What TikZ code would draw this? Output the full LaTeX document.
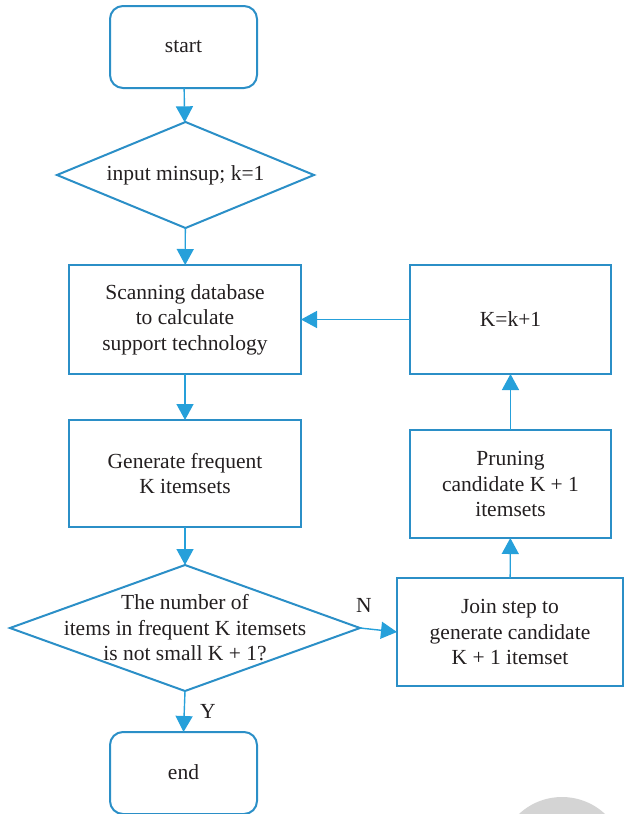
\documentclass[tikz,border=0pt]{standalone}
\usepackage{fontspec}
\setmainfont{Liberation Serif}
\usetikzlibrary{shapes.geometric,arrows.meta}
\definecolor{boxblue}{RGB}{43,143,199}
\definecolor{arrblue}{RGB}{38,160,218}
\definecolor{txt}{RGB}{35,31,32}
\tikzset{
  every node/.style={font=\fontsize{21.5}{25.5}\selectfont, text=txt},
  rbox/.style={draw=boxblue, line width=2pt, rounded corners=13pt, inner sep=0pt, outer sep=0pt},
  sbox/.style={draw=boxblue, line width=2pt, inner sep=0pt, outer sep=0pt, align=center},
  dia/.style={draw=boxblue, line width=2pt, diamond, inner sep=0pt, outer sep=0pt},
  arr/.style={draw=arrblue, line width=1.4pt, -{Triangle[length=16pt,width=17pt]}},
  lbl/.style={align=center, inner sep=0pt}
}
\begin{document}
\begin{tikzpicture}[x=1pt,y=-1pt]
\useasboundingbox (0,0) rectangle (624,814);
\begin{scope}
\clip (0,0) rectangle (624,814);
\fill[black!17] (562,860) circle (63pt);
\end{scope}
% nodes
\node[rbox, minimum width=147pt, minimum height=82pt] (start) at (183.5,47) {start};
\node[dia, minimum width=257pt, minimum height=106pt] (d1) at (185.5,175) {};
\node[lbl] at (d1) {input minsup; k=1};
\node[sbox, minimum width=232pt, minimum height=109pt] (scan) at (185,319.5) {Scanning database\\to calculate\\support technology};
\node[sbox, minimum width=201pt, minimum height=109pt] (kk) at (510.5,319.5) {K=k+1};
\node[sbox, minimum width=232pt, minimum height=107pt] (gen) at (185,473.5) {Generate frequent\\K itemsets};
\node[sbox, minimum width=201pt, minimum height=108pt] (prune) at (510.5,484) {Pruning\\candidate K + 1\\itemsets};
\node[dia, minimum width=350pt, minimum height=126pt] (d2) at (185,628) {};
\node[lbl] at (d2) {The number of\\items in frequent K itemsets\\is not small K + 1?};
\node[sbox, minimum width=226pt, minimum height=108pt] (join) at (510,632) {Join step to\\generate candidate\\K + 1 itemset};
\node[rbox, minimum width=147pt, minimum height=82pt] (end) at (183.5,773) {\raisebox{2pt}{end}};
% connectors
\draw[arr] (start) -- (d1);
\draw[arr] (d1) -- (scan);
\draw[arr] (scan) -- (gen);
\draw[arr] (gen) -- (d2);
\draw[arr] (d2.south) -- (end.north);
\node[lbl] at (208,711) {Y};
\draw[arr] (d2.east) -- (join.west);
\node[lbl] at (364,605) {N};
\draw[arr] (join) -- (prune);
\draw[arr] (prune) -- (kk);
\draw[arr] (kk) -- (scan);
\end{tikzpicture}
\end{document}
